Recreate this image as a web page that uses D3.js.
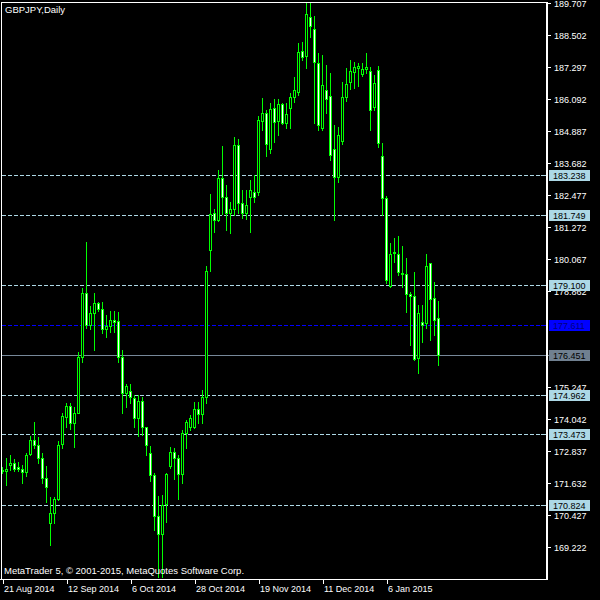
<!DOCTYPE html>
<html><head><meta charset="utf-8">
<script src="https://cdn.jsdelivr.net/npm/d3@7"></script>
<style>html,body{margin:0;padding:0;background:#000;overflow:hidden}</style>
</head><body><svg id="c" width="600" height="600"></svg>
<script>
// Daily GBPJPY candles, 21 Aug 2014 .. 23 Jan 2015 (one per trading day)
const opens = [172.14,172.11,172.31,172.39,172.24,172.17,172.05,172.74,173.27,173.07,
172.58,171.82,170.15,170.53,171.03,173.10,174.14,174.55,173.92,174.29,
176.38,178.79,177.59,178.04,178.41,178.19,177.43,177.56,177.78,177.75,
176.38,175.05,175.12,174.83,174.08,174.73,173.77,172.76,171.95,170.40,
169.71,170.84,172.29,172.82,172.58,171.97,173.54,173.74,173.74,174.42,
174.24,174.87,180.42,181.82,181.55,183.12,182.43,181.82,181.95,184.37,
182.20,181.81,182.40,182.61,182.61,185.29,185.57,184.21,185.75,185.29,
185.90,185.19,185.75,186.19,186.38,187.91,187.73,189.18,188.73,187.45,
185.00,186.44,186.22,184.21,183.16,184.53,186.17,186.76,187.13,187.28,
187.05,187.22,187.16,185.81,187.20,183.96,182.37,179.06,180.35,180.26,
179.56,179.50,178.75,178.70,176.34,177.72,177.66,179.92,178.60,177.85];
const highs = [172.24,172.60,172.69,172.56,172.45,172.31,172.79,173.42,173.94,173.37,
172.79,172.29,171.13,171.13,173.24,174.29,174.65,174.65,174.52,176.59,
178.98,180.72,178.31,178.79,178.47,178.47,177.97,178.13,178.13,178.10,
176.65,175.37,175.37,174.96,174.96,174.90,173.77,173.04,172.01,171.16,
171.19,172.03,172.99,172.95,172.70,173.64,174.02,174.21,174.71,174.71,
175.15,179.82,182.53,181.95,183.43,184.33,182.87,182.24,184.67,184.60,
182.68,182.68,183.05,183.24,185.46,186.13,185.69,185.95,186.10,186.10,
185.96,185.95,186.33,186.93,188.22,188.26,189.71,189.70,189.23,187.82,
187.76,187.38,187.07,185.12,185.04,186.76,187.26,187.57,187.51,187.45,
187.45,187.85,187.32,187.01,187.35,184.44,182.45,180.67,180.87,180.95,
180.57,180.11,178.85,179.58,178.35,178.35,180.27,179.94,179.20,178.50];
const lows = [172.01,171.57,172.14,172.11,172.11,171.66,171.91,172.69,172.95,172.39,
171.63,170.94,169.31,170.13,171.01,172.95,173.77,173.67,172.99,174.29,
176.21,177.47,177.43,176.65,178.13,177.28,177.15,177.34,177.34,176.21,
174.29,174.52,174.65,173.77,173.42,173.45,172.70,171.70,169.88,168.10,
168.10,170.19,172.20,171.79,171.03,171.66,172.95,173.64,173.71,173.89,
173.89,174.65,179.64,181.11,181.50,181.77,181.17,181.07,181.74,181.81,
181.62,181.57,181.10,182.23,182.49,184.94,183.96,184.07,184.50,184.75,
185.17,185.01,185.02,186.00,186.25,187.57,187.26,188.43,185.19,184.94,
184.94,185.57,183.81,181.55,182.99,184.41,186.04,186.47,186.51,186.59,
186.97,187.07,184.94,185.69,184.31,181.74,179.19,179.04,179.98,179.48,
179.01,178.10,176.84,176.28,175.80,176.97,177.47,177.03,177.22,176.09];
const closes = [172.09,172.17,172.39,172.16,172.16,172.05,172.69,173.27,173.08,172.58,
171.82,171.51,170.51,171.03,173.07,174.17,174.55,173.92,174.29,176.38,
178.79,177.59,178.04,178.41,178.19,177.43,177.56,177.78,177.72,176.38,
175.05,175.30,174.90,174.08,174.73,173.77,173.08,171.95,170.40,169.71,
170.82,171.97,172.82,172.58,171.97,173.54,173.95,174.08,174.42,174.24,
174.87,179.64,181.77,181.55,183.12,182.43,181.82,181.95,184.37,182.20,
181.81,182.11,182.68,182.40,185.31,185.57,184.40,185.73,185.25,185.90,
185.19,185.54,186.19,186.44,187.86,187.70,189.30,188.86,187.51,185.12,
186.63,186.09,183.99,183.16,184.75,186.17,186.67,187.17,187.32,187.36,
187.23,187.30,185.69,186.72,184.46,182.37,179.29,180.26,180.29,179.58,
179.50,178.75,178.70,176.30,178.06,177.59,179.83,178.56,177.78,176.451];

const dateTickIndex = [0,16,32,48,64,80,96];
const dateTickLabels = ["21 Aug 2014","12 Sep 2014","6 Oct 2014","28 Oct 2014","19 Nov 2014","11 Dec 2014","6 Jan 2015"];
// visible price scale labels (177.657 and 176.452 are fully hidden behind level boxes in the reference)
const priceTicks = [189.707,188.502,187.297,186.092,184.887,183.682,182.477,181.272,180.067,178.862,175.247,174.042,172.837,171.632,170.427,169.222];
const levelLines = [183.238,181.749,179.100,174.962,173.473,170.824];
const blueLevel = 177.611;
const bidLevel = 176.451;
const titleText = "GBPJPY,Daily";
const footerText = "MetaTrader 5, \u00A9 2001-2015, MetaQuotes Software Corp.";

const svg = d3.select("#c");
const FONT = "'Liberation Sans', Arial, sans-serif";
const GREEN = "#00ff00";
svg.append("rect").attr("width",600).attr("height",600).attr("fill","#000");

const n = opens.length;
const x = d3.scaleLinear().domain([0, n-1]).range([2.5, 2.5 + 4*(n-1)]);
const y = d3.scaleLinear().domain([169.222, 189.707]).range([547.3, 3.3]);

const L = 1.5, R = 547, T = 2, B = 579;

svg.append("defs").append("clipPath").attr("id","plot")
  .append("rect").attr("x",L).attr("y",T).attr("width",R-L).attr("height",B-T);

// level lines
const lv = svg.append("g").attr("shape-rendering","crispEdges");
lv.selectAll("line.lvl").data(levelLines).join("line")
  .attr("x1",L).attr("x2",R-1)
  .attr("y1",d=>Math.round(y(d))+0.5).attr("y2",d=>Math.round(y(d))+0.5)
  .attr("stroke","#add8e6").attr("stroke-dasharray","4,2");
lv.append("line").attr("x1",L).attr("x2",R-1)
  .attr("y1",Math.round(y(blueLevel))+0.5).attr("y2",Math.round(y(blueLevel))+0.5)
  .attr("stroke","#0000ff").attr("stroke-width",1.2).attr("stroke-dasharray","4,2");
lv.append("line").attr("x1",L).attr("x2",550)
  .attr("y1",Math.round(y(bidLevel))+0.5).attr("y2",Math.round(y(bidLevel))+0.5)
  .attr("stroke","#778899");

// candles
const cg = svg.append("g").attr("clip-path","url(#plot)").attr("shape-rendering","crispEdges");
const idx = d3.range(n);
const bodyTop = i => Math.round(y(Math.max(opens[i],closes[i])));
const bodyBot = i => Math.round(y(Math.min(opens[i],closes[i])));
cg.selectAll("line.wick").data(idx).join("line")
  .attr("x1",i=>x(i)).attr("x2",i=>x(i))
  .attr("y1",i=>Math.round(y(highs[i]))).attr("y2",i=>Math.round(y(lows[i]))+1)
  .attr("stroke",GREEN).attr("stroke-width",1);
cg.selectAll("rect.body").data(idx).join("rect")
  .attr("x",i=>x(i)-1.5).attr("y",bodyTop).attr("width",3)
  .attr("height",i=>Math.max(1, bodyBot(i)-bodyTop(i)+1))
  .attr("fill",GREEN);
cg.selectAll("rect.inner").data(idx.filter(i=>bodyBot(i)-bodyTop(i)>=2)).join("rect")
  .attr("x",i=>x(i)-0.5).attr("y",i=>bodyTop(i)+1).attr("width",1)
  .attr("height",i=>bodyBot(i)-bodyTop(i)-1)
  .attr("fill",i=>closes[i]>=opens[i]?"#000":"#fff");

// frame
const fr = svg.append("g").attr("shape-rendering","crispEdges").attr("stroke","#fff").attr("fill","none");
fr.append("line").attr("x1",L).attr("x2",R).attr("y1",T+0.5).attr("y2",T+0.5);
fr.append("line").attr("x1",L).attr("x2",L).attr("y1",T).attr("y2",B);
fr.append("line").attr("x1",0).attr("x2",R+1).attr("y1",B+0.5).attr("y2",B+0.5);
fr.append("line").attr("x1",R).attr("x2",R).attr("y1",T).attr("y2",B+1).attr("stroke-width",2);

// right price axis
const ya = svg.append("g").attr("transform",`translate(${R+1},0)`)
  .call(d3.axisRight(y).tickValues(priceTicks).tickSize(3).tickPadding(3).tickFormat(d3.format(".3f")));
ya.select(".domain").remove();
ya.selectAll("line").attr("stroke","#fff").attr("shape-rendering","crispEdges");
ya.selectAll("text").attr("fill","#fff").attr("font-family",FONT).attr("font-size","9px");

// bottom date axis
const xa = svg.append("g").attr("transform",`translate(0,${B})`)
  .call(d3.axisBottom(x).tickValues(dateTickIndex).tickSize(5).tickPadding(2)
    .tickFormat((d,k)=>dateTickLabels[k]));
xa.select(".domain").remove();
xa.selectAll("line").attr("stroke","#fff").attr("shape-rendering","crispEdges");
xa.selectAll("text").attr("fill","#fff").attr("font-family",FONT).attr("font-size","9px")
  .attr("text-anchor","start").attr("x",1);

// level labels
const lab = [
  ...levelLines.map(v=>({v, bg:"#add8e6", fg:"#000"})),
  {v:blueLevel, bg:"#0000ff", fg:"#000080"},
  {v:bidLevel, bg:"#708090", fg:"#000"}
];
const lg = svg.append("g");
lg.selectAll("rect").data(lab).join("rect")
  .attr("x",549).attr("y",d=>Math.round(y(d.v))-5).attr("width",41).attr("height",11)
  .attr("fill",d=>d.bg).attr("shape-rendering","crispEdges");
lg.selectAll("text").data(lab).join("text")
  .attr("x",553).attr("y",d=>Math.round(y(d.v))+3.8)
  .attr("fill",d=>d.fg).attr("font-family",FONT).attr("font-size","9px")
  .text(d=>d3.format(".3f")(d.v));
lg.selectAll("line").data(lab.filter(d=>d.v!==bidLevel)).join("line")
  .attr("x1",541).attr("x2",545)
  .attr("y1",d=>Math.round(y(d.v))+0.5).attr("y2",d=>Math.round(y(d.v))+0.5)
  .attr("stroke",d=>d.bg).attr("shape-rendering","crispEdges");

// texts
svg.append("text").attr("x",5).attr("y",12.5).attr("fill","#fff")
  .attr("font-family",FONT).attr("font-size","9.5px").text(titleText);
svg.append("text").attr("x",4).attr("y",574).attr("fill","#fff")
  .attr("font-family",FONT).attr("font-size","9.5px").text(footerText);
</script></body></html>
